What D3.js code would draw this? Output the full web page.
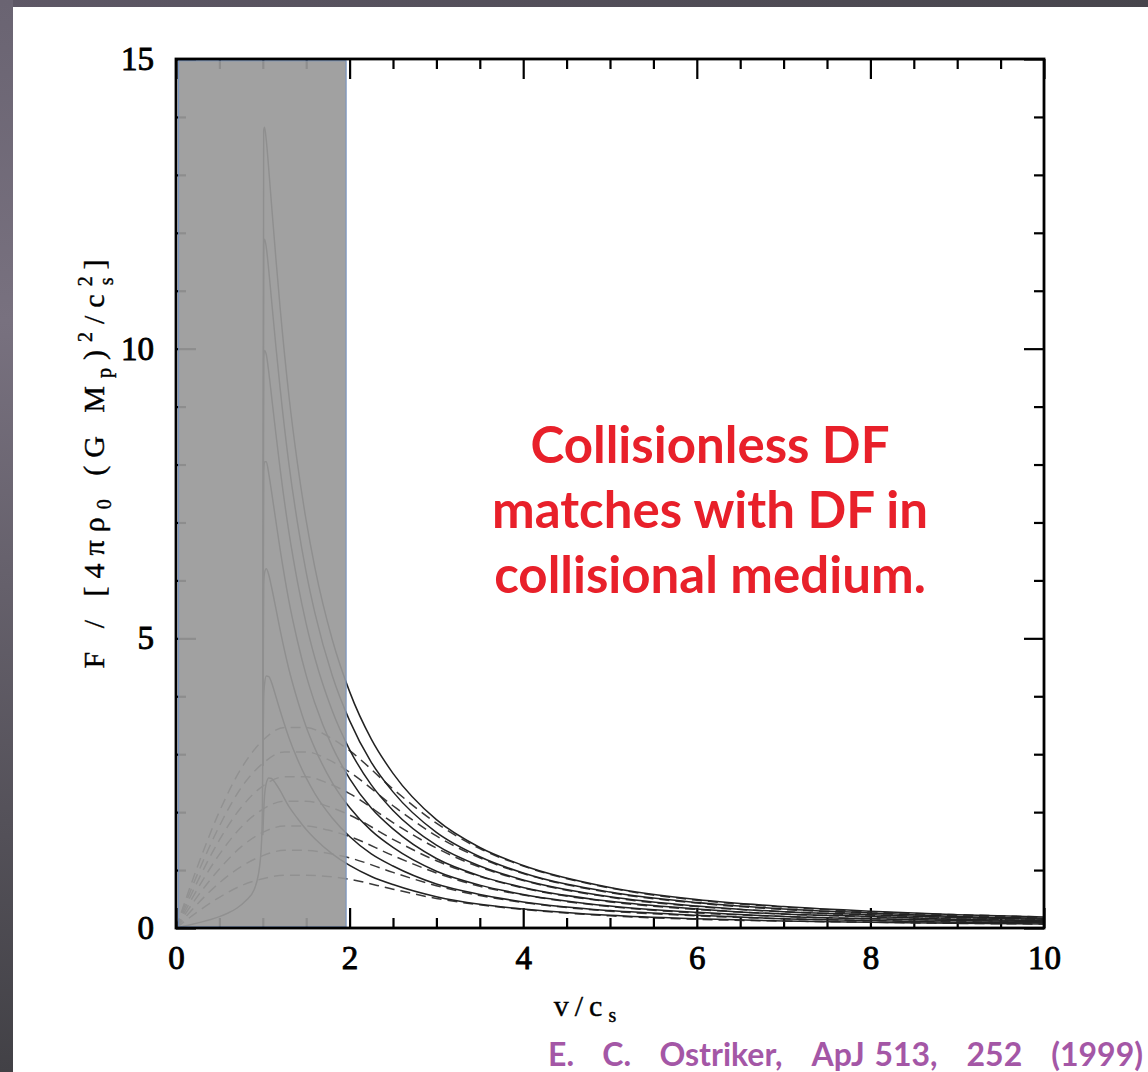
<!DOCTYPE html>
<html><head><meta charset="utf-8">
<script src="https://cdn.jsdelivr.net/npm/d3@7"></script>
<style>
html,body{margin:0;padding:0;background:#fff;}
svg{display:block;}
</style></head>
<body>
<script>
// ---- data ----
const xMajorTicks = [0, 2, 4, 6, 8, 10];
const yMajorTicks = [0, 5, 10, 15];
const shadeRange = [0.03, 1.96];

const subsonicMach = [0,0.1,0.2,0.3,0.4,0.5,0.6,0.7,0.8,0.9,0.95,0.97,0.98,0.99,0.995,0.999];
const subsonicF    = [0,0.033,0.068,0.106,0.148,0.197,0.259,0.341,0.467,0.66,0.93,1.15,1.34,1.66,2.0,2.8];

const solidMach = [1.0,1.01,1.02,1.04,1.07,1.1,1.15,1.2,1.3,1.4,1.5,1.6,1.8,2.0,2.25,2.5,3,3.5,4,5,6,7,8,9,10];
const solidA = [2.8,13.76,13.82,13.60,13.07,12.50,11.57,10.70,9.20,8.01,7.03,6.22,4.98,4.08,3.26,2.67,1.87,1.39,1.08,0.70,0.49,0.37,0.29,0.23,0.19];
const solidB = [2.8,11.80,11.89,11.75,11.33,10.85,10.05,9.31,8.02,6.99,6.14,5.44,4.36,3.58,2.86,2.35,1.65,1.23,0.95,0.62,0.44,0.33,0.26,0.20,0.17];
const solidC = [2.8,9.84,9.97,9.90,9.58,9.19,8.54,7.92,6.84,5.97,5.25,4.66,3.75,3.08,2.47,2.03,1.43,1.07,0.83,0.54,0.38,0.28,0.23,0.18,0.15];
const solidD = [2.8,7.88,8.05,8.05,7.83,7.54,7.03,6.53,5.65,4.95,4.36,3.88,3.13,2.58,2.07,1.71,1.20,0.90,0.70,0.46,0.33,0.24,0.20,0.15,0.13];
const solidE = [2.8,5.92,6.13,6.20,6.09,5.89,5.52,5.14,4.47,3.93,3.47,3.10,2.51,2.08,1.68,1.39,0.98,0.74,0.58,0.38,0.27,0.20,0.16,0.13,0.11];
const solidF = [2.8,3.96,4.21,4.35,4.34,4.24,4.00,3.75,3.29,2.91,2.59,2.32,1.90,1.58,1.28,1.07,0.76,0.58,0.45,0.30,0.22,0.16,0.13,0.10,0.09];
const solidG = [1.6,2.00,2.28,2.50,2.59,2.58,2.49,2.37,2.10,1.89,1.70,1.54,1.28,1.08,0.89,0.75,0.54,0.41,0.33,0.22,0.16,0.12,0.10,0.08,0.07];

const dashedMach = [0,0.25,0.5,0.75,1.0,1.25,1.5,1.75,2.0,2.5,3,3.5,4,5,6,7,8,9,10];
const dashedA = [0,1.07,2.01,2.75,3.24,3.46,3.46,3.31,3.06,2.40,1.81,1.37,1.07,0.69,0.48,0.36,0.28,0.23,0.19];
const dashedB = [0,0.94,1.76,2.42,2.84,3.04,3.04,2.91,2.69,2.11,1.59,1.21,0.94,0.61,0.43,0.32,0.25,0.21,0.17];
const dashedC = [0,0.81,1.52,2.08,2.45,2.61,2.61,2.50,2.32,1.82,1.38,1.05,0.82,0.53,0.37,0.28,0.22,0.18,0.15];
const dashedD = [0,0.68,1.27,1.74,2.05,2.19,2.19,2.10,1.95,1.53,1.16,0.89,0.69,0.45,0.32,0.24,0.19,0.16,0.13];
const dashedE = [0,0.55,1.02,1.40,1.65,1.76,1.76,1.69,1.58,1.25,0.95,0.72,0.57,0.37,0.26,0.20,0.16,0.13,0.11];
const dashedF = [0,0.42,0.78,1.06,1.25,1.34,1.34,1.29,1.21,0.96,0.73,0.56,0.44,0.29,0.21,0.16,0.13,0.11,0.09];
const dashedG = [0,0.28,0.53,0.73,0.85,0.91,0.91,0.89,0.84,0.67,0.51,0.40,0.32,0.21,0.15,0.12,0.10,0.08,0.07];

const annotationLines = ["Collisionless DF", "matches with DF in", "collisional medium."];
const citationWords = ["E.", "C.", "Ostriker,", "ApJ", "513,", "252", "(1999)"];
const citationGapUnits = [3, 3, 3, 1, 3, 3]; // wide gaps (double spaces) vs. the single space in "ApJ 513,"

// ---- drawing ----
const W = 1148, H = 1072;
const svg = d3.select("body").append("svg").attr("width", W).attr("height", H);
const defs = svg.append("defs");
const gl = defs.append("linearGradient").attr("id","gLeft").attr("x1",0).attr("y1",0).attr("x2",0).attr("y2",1);
gl.append("stop").attr("offset","0%").attr("stop-color","#6a6472");
gl.append("stop").attr("offset","30%").attr("stop-color","#78717f");
gl.append("stop").attr("offset","100%").attr("stop-color","#424146");
const gt = defs.append("linearGradient").attr("id","gTop").attr("x1",0).attr("y1",0).attr("x2",1).attr("y2",0);
gt.append("stop").attr("offset","0%").attr("stop-color","#5e5866");
gt.append("stop").attr("offset","100%").attr("stop-color","#47454c");

svg.append("rect").attr("width",W).attr("height",H).attr("fill","#fff");
svg.append("rect").attr("x",0).attr("y",0).attr("width",W).attr("height",7).attr("fill","url(#gTop)");
svg.append("rect").attr("x",0).attr("y",0).attr("width",13).attr("height",H).attr("fill","url(#gLeft)");

const x = d3.scaleLinear().domain([0,10]).range([176,1044]);
const y = d3.scaleLinear().domain([0,15]).range([928,59]);

const xMinor = d3.range(0, 10.001, 0.5).filter(v => !xMajorTicks.includes(v));
const yMinor = d3.range(0, 15.001, 1).filter(v => !yMajorTicks.includes(v));

const tickFont = "'Liberation Serif', 'DejaVu Serif', serif";
function styleAxis(g){
  g.select(".domain").remove();
  g.selectAll(".tick line").attr("stroke","#000").attr("stroke-width",2.2);
  g.selectAll("text").attr("font-family",tickFont).attr("font-size",33).attr("fill","#000")
   .attr("stroke","#000").attr("stroke-width",0.9);
}
// bottom
svg.append("g").attr("transform",`translate(0,${y(0)})`)
  .call(d3.axisBottom(x).tickValues(xMajorTicks).tickSize(-20).tickPadding(18).tickFormat(d3.format("d"))).call(styleAxis);
svg.append("g").attr("transform",`translate(0,${y(0)})`)
  .call(d3.axisBottom(x).tickValues(xMinor).tickSize(-10).tickFormat("")).call(styleAxis);
// top
svg.append("g").attr("transform",`translate(0,${y(15)})`)
  .call(d3.axisTop(x).tickValues(xMajorTicks).tickSize(-20).tickFormat("")).call(styleAxis);
svg.append("g").attr("transform",`translate(0,${y(15)})`)
  .call(d3.axisTop(x).tickValues(xMinor).tickSize(-10).tickFormat("")).call(styleAxis);
// left
svg.append("g").attr("transform",`translate(${x(0)},0)`)
  .call(d3.axisLeft(y).tickValues(yMajorTicks).tickSize(-20).tickPadding(22).tickFormat(d3.format("d"))).call(styleAxis);
svg.append("g").attr("transform",`translate(${x(0)},0)`)
  .call(d3.axisLeft(y).tickValues(yMinor).tickSize(-10).tickFormat("")).call(styleAxis);
// right
svg.append("g").attr("transform",`translate(${x(10)},0)`)
  .call(d3.axisRight(y).tickValues(yMajorTicks).tickSize(-20).tickFormat("")).call(styleAxis);
svg.append("g").attr("transform",`translate(${x(10)},0)`)
  .call(d3.axisRight(y).tickValues(yMinor).tickSize(-10).tickFormat("")).call(styleAxis);

const clip = defs.append("clipPath").attr("id","plotClip");
clip.append("rect").attr("x",x(0)).attr("y",y(15)).attr("width",x(10)-x(0)).attr("height",y(0)-y(15));

const line = d3.line().x(d=>x(d[0])).y(d=>y(d[1])).curve(d3.curveMonotoneX);
const curves = svg.append("g").attr("clip-path","url(#plotClip)");

const zip = (xs, ys) => xs.map((v,i)=>[v, ys[i]]);

curves.append("path").datum(zip(subsonicMach, subsonicF))
  .attr("d", line).attr("fill","none").attr("stroke","#2b2b2b").attr("stroke-width",1.5);

[dashedA,dashedB,dashedC,dashedD,dashedE,dashedF,dashedG].forEach(s=>{
  curves.append("path").datum(zip(dashedMach, s))
    .attr("d", line).attr("fill","none").attr("stroke","#3a3a3a").attr("stroke-width",1.5)
    .attr("stroke-dasharray","10,6");
});
[solidA,solidB,solidC,solidD,solidE,solidF,solidG].forEach(s=>{
  curves.append("path").datum(zip(solidMach, s))
    .attr("d", line).attr("fill","none").attr("stroke","#222").attr("stroke-width",1.5);
});

// shaded overlay
svg.append("rect")
  .attr("x", x(shadeRange[0])).attr("y", y(14.97))
  .attr("width", x(shadeRange[1]) - x(shadeRange[0]))
  .attr("height", y(0.02) - y(14.97))
  .attr("fill","#999").attr("fill-opacity",0.92)
  .attr("stroke","#6f8fc0").attr("stroke-width",1);

// frame
svg.append("rect").attr("x",x(0)).attr("y",y(15)).attr("width",x(10)-x(0)).attr("height",y(0)-y(15))
  .attr("fill","none").attr("stroke","#000").attr("stroke-width",2.8);

// axis titles
const labFont = "'Liberation Serif', 'DejaVu Serif', serif";
const xt = svg.append("text").attr("x",588).attr("y",1016).attr("text-anchor","middle")
  .attr("font-family",labFont).attr("font-size",30).attr("letter-spacing",6)
  .attr("fill","#000").attr("stroke","#000").attr("stroke-width",0.4);
xt.append("tspan").text("v/c");
xt.append("tspan").attr("font-size",20).attr("dy",6).text("s");

const yt = svg.append("text").attr("transform",`translate(104,460) rotate(-90)`).attr("text-anchor","middle")
  .attr("font-family",labFont).attr("font-size",30).attr("letter-spacing",8)
  .attr("fill","#000").attr("stroke","#000").attr("stroke-width",0.4)
  .style("white-space","pre");
yt.append("tspan").text("F / [4πρ");
yt.append("tspan").attr("font-size",20).attr("dy",7).text("0");
yt.append("tspan").attr("dy",-7).text(" (G M");
yt.append("tspan").attr("font-size",20).attr("dy",7).text("p");
yt.append("tspan").attr("dy",-7).text(")");
yt.append("tspan").attr("font-size",20).attr("dy",-12).text("2");
yt.append("tspan").attr("dy",12).text("/c");
yt.append("tspan").attr("font-size",20).attr("dy",-12).text("2");
yt.append("tspan").attr("font-size",20).attr("dx",-17).attr("dy",21).text("s");
yt.append("tspan").attr("dy",-9).text("]");

// annotation
const ann = svg.append("text").attr("text-anchor","middle").attr("font-family","Lato, 'Open Sans', sans-serif")
  .attr("font-weight",700).attr("font-size",51).attr("fill","#e8202a");
annotationLines.forEach((t,i)=>{
  ann.append("tspan").attr("x",710).attr("y",463 + i*65).text(t);
});

// citation: words laid out between the left start and the right end seen in the reference
const citeStart = 548, citeEnd = 1143;
const cite = svg.append("text").attr("y",1066).attr("font-family","Lato, 'Open Sans', sans-serif")
  .attr("font-weight",700).attr("font-size",32).attr("fill","#a457a6");
const spans = citationWords.map(w => cite.append("tspan").text(w));
const widths = spans.map(s => s.node().getComputedTextLength());
const totalW = d3.sum(widths);
const unit = (citeEnd - citeStart - totalW) / d3.sum(citationGapUnits);
let cx = citeStart;
spans.forEach((s,i)=>{
  s.attr("x", cx);
  cx += widths[i] + (i < citationGapUnits.length ? citationGapUnits[i]*unit : 0);
});
</script>
</body></html>
